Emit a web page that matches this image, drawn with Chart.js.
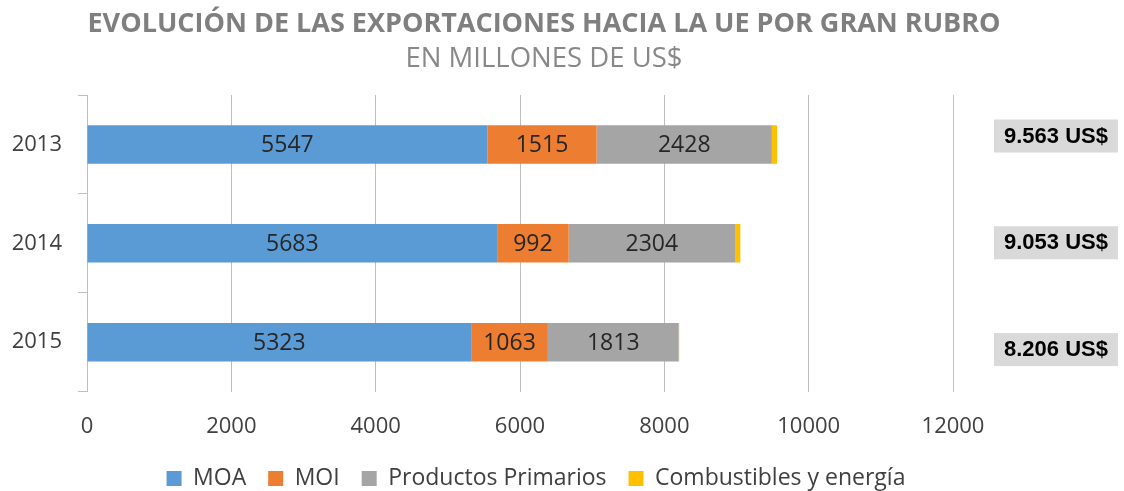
<!DOCTYPE html>
<html>
<head>
<meta charset="utf-8">
<script src="https://cdn.jsdelivr.net/npm/chart.js@4"></script>
<style>
  html, body { margin: 0; padding: 0; background: #fff; }
  #wrap { width: 1124px; height: 491px; }
</style>
</head>
<body>
<div id="wrap"><canvas id="chart"></canvas></div>
<script>
const years = ['2013', '2014', '2015'];
const moa = [5547, 5683, 5323];
const moi = [1515, 992, 1063];
const primarios = [2428, 2304, 1813];
const combustibles = [73, 74, 7];
const totals = [9563, 9053, 8206];

const totalLabels = totals.map(t => String(t).replace(/\B(?=(\d{3})+(?!\d))/g, '.') + ' US$');

// titles drawn on top, in the space left by layout padding
const titlePlugin = {
  id: 'titles',
  afterDraw(chart) {
    const ctx = chart.ctx;
    ctx.save();
    ctx.fillStyle = '#7f7f7f';
    ctx.textAlign = 'center';
    ctx.textBaseline = 'alphabetic';
    ctx.font = 'bold 27px "Open Sans"';
    ctx.fillText('EVOLUCIÓN DE LAS EXPORTACIONES HACIA LA UE POR GRAN RUBRO', 544, 32);
    ctx.fillStyle = '#888888';
    ctx.font = '27.5px "Open Sans"';
    ctx.fillText('EN MILLONES DE US$', 544, 67);
    ctx.restore();
  }
};

// value labels inside the first three series
const valueLabels = {
  id: 'valueLabels',
  afterDatasetsDraw(chart) {
    const ctx = chart.ctx;
    ctx.save();
    ctx.font = '23px "Open Sans"';
    ctx.fillStyle = '#262626';
    ctx.textAlign = 'center';
    ctx.textBaseline = 'middle';
    [0, 1, 2].forEach(di => {
      const meta = chart.getDatasetMeta(di);
      meta.data.forEach((bar, i) => {
        const p = bar.getCenterPoint();
        ctx.fillText(chart.data.datasets[di].data[i], p.x, p.y + 1);
      });
    });
    ctx.restore();
  }
};

// grey boxes with the yearly totals, right of the plot
// (in the original they sit a bit more spread out than the bars)
const totalBoxes = {
  id: 'totalBoxes',
  afterDraw(chart) {
    const ctx = chart.ctx;
    const y = chart.scales.y;
    const mid = (chart.chartArea.top + chart.chartArea.bottom) / 2;
    const left = chart.chartArea.right + 41;
    ctx.save();
    ctx.font = 'bold 22px "Liberation Sans"';
    ctx.textBaseline = 'middle';
    ctx.textAlign = 'left';
    totalLabels.forEach((txt, i) => {
      const cy = mid + (y.getPixelForValue(i) - mid) * 1.08 - 1;
      const w = ctx.measureText(txt).width + 20;
      ctx.fillStyle = '#d9d9d9';
      ctx.fillRect(left, cy - 16, w, 33);
      ctx.fillStyle = '#000';
      ctx.fillText(txt, left + 10, cy + 1);
    });
    ctx.restore();
  }
};

new Chart(document.getElementById('chart'), {
  type: 'bar',
  data: {
    labels: years,
    datasets: [
      { label: 'MOA', data: moa, backgroundColor: '#5b9bd5' },
      { label: 'MOI', data: moi, backgroundColor: '#ed7d31' },
      { label: 'Productos Primarios', data: primarios, backgroundColor: '#a5a5a5' },
      { label: 'Combustibles y energía', data: combustibles, backgroundColor: '#ffc000' }
    ]
  },
  options: {
    indexAxis: 'y',
    responsive: true,
    maintainAspectRatio: false,
    animation: false,
    layout: { padding: { top: 95, left: 0, right: 52, bottom: -9 } },
    datasets: { bar: { categoryPercentage: 1, barPercentage: 0.39 } },
    scales: {
      x: {
        stacked: true,
        min: 0,
        max: 12000,
        afterFit(scale) { scale.height -= 17; },
        ticks: {
          stepSize: 2000,
          padding: 22,
          color: '#404040',
          font: { family: 'Open Sans', size: 22 },
          callback: v => String(v)
        },
        grid: { color: '#bfbfbf', drawTicks: false },
        border: { display: false }
      },
      y: {
        stacked: true,
        afterFit(scale) { scale.width = 87; },
        ticks: { padding: 16, color: '#404040', font: { family: 'Open Sans', size: 22 } },
        grid: { offset: true, drawOnChartArea: false, tickLength: 9, color: '#bfbfbf' },
        border: { color: '#bfbfbf' }
      },
      // empty axis that only keeps room for the total boxes
      y2: {
        type: 'category',
        position: 'right',
        labels: years,
        afterFit(scale) { scale.width = 119; },
        grid: { display: false, drawTicks: false },
        border: { display: false },
        ticks: { display: false }
      }
    },
    plugins: {
      legend: {
        position: 'bottom',
        labels: {
          boxWidth: 15,
          boxHeight: 15,
          padding: 22,
          color: '#404040',
          font: { family: 'Open Sans', size: 23 }
        }
      },
      tooltip: { enabled: false }
    }
  },
  plugins: [titlePlugin, valueLabels, totalBoxes]
});
</script>
</body>
</html>
